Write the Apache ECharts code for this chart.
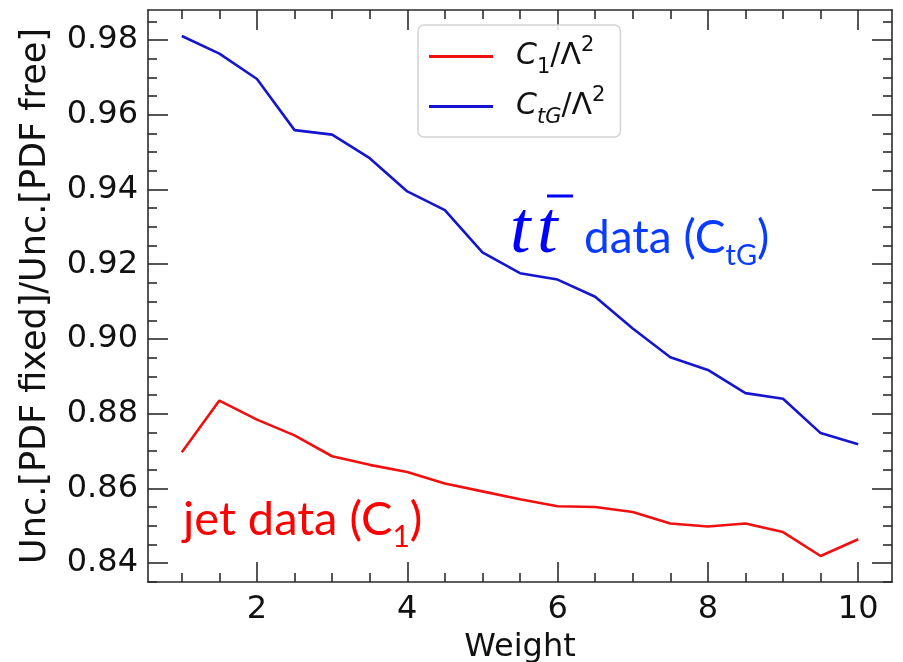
<!DOCTYPE html>
<html>
<head>
<meta charset="utf-8">
<script src="https://cdn.jsdelivr.net/npm/echarts@6/dist/echarts.min.js"></script>
<style>
  html, body { margin: 0; padding: 0; background: #ffffff; }
  #chart { width: 903px; height: 662px; }
</style>
</head>
<body>
<div id="chart"></div>
<script>
// Weight values along the x axis
const weights = [1, 1.5, 2, 2.5, 3, 3.5, 4, 4.5, 5, 5.5, 6, 6.5, 7, 7.5, 8, 8.5, 9, 9.5, 10];

// Unc.[PDF fixed] / Unc.[PDF free] for each operator
const c1Ratio = [0.8697, 0.8835, 0.8784, 0.8742, 0.8686, 0.8663, 0.8644, 0.8613, 0.8592, 0.8571,
                 0.8552, 0.8550, 0.8537, 0.8506, 0.8498, 0.8506, 0.8483, 0.8419, 0.8464];
const ctgRatio = [0.9811, 0.9764, 0.9696, 0.9559, 0.9547, 0.9484, 0.9395, 0.9345, 0.9232, 0.9176,
                  0.9159, 0.9113, 0.9028, 0.8951, 0.8917, 0.8855, 0.8840, 0.8748, 0.8718];

// Tick positions
const xMajorTicks = [2, 4, 6, 8, 10];
const xMinorTicks = [1, 1.5, 2.5, 3, 3.5, 4.5, 5, 5.5, 6.5, 7, 7.5, 8.5, 9, 9.5];
const yMajorTicks = [0.84, 0.86, 0.88, 0.90, 0.92, 0.94, 0.96, 0.98];
const yMinorTicks = [0.835, 0.845, 0.85, 0.855, 0.865, 0.87, 0.875, 0.885, 0.89, 0.895, 0.905,
                     0.91, 0.915, 0.925, 0.93, 0.935, 0.945, 0.95, 0.955, 0.965, 0.97, 0.975, 0.985];

// 5% padding on each side of the data range
function padded(values) {
  const lo = Math.min.apply(null, values), hi = Math.max.apply(null, values);
  const pad = (hi - lo) * 0.05;
  return [lo - pad, hi + pad];
}
const [xMin, xMax] = padded(weights);
const [yMin, yMax] = padded(c1Ratio.concat(ctgRatio));

const FRAME = '#2b2b2b';
const TICK_FONT = 'DejaVu Sans';

function xAxisDef(position, ticks, len, withLine, withLabel) {
  return {
    type: 'value', position: position, min: xMin, max: xMax,
    splitLine: { show: false },
    axisLine: { show: withLine, onZero: false, lineStyle: { color: FRAME, width: 1.6 } },
    axisTick: { show: true, inside: true, length: len, customValues: ticks,
                lineStyle: { color: FRAME, width: 1.6 } },
    axisLabel: withLabel ? { show: true, customValues: ticks, margin: 12, color: '#111',
                fontFamily: TICK_FONT, fontSize: 32 } : { show: false },
    name: withLabel ? 'Weight' : '',
    nameLocation: 'middle', nameGap: 50, nameMoveOverlap: false,
    nameTextStyle: { fontFamily: TICK_FONT, fontSize: 32, color: '#111' }
  };
}
function yAxisDef(position, ticks, len, withLine, withLabel) {
  return {
    type: 'value', position: position, min: yMin, max: yMax,
    splitLine: { show: false },
    axisLine: { show: withLine, onZero: false, lineStyle: { color: FRAME, width: 1.6 } },
    axisTick: { show: true, inside: true, length: len, customValues: ticks,
                lineStyle: { color: FRAME, width: 1.6 } },
    axisLabel: withLabel ? { show: true, customValues: ticks, margin: 10, color: '#111',
                fontFamily: TICK_FONT, fontSize: 32,
                formatter: v => v.toFixed(2) } : { show: false },
    name: withLabel ? 'Unc.[PDF fixed]/Unc.[PDF free]' : '',
    nameLocation: 'middle', nameGap: 95,
    nameTextStyle: { fontFamily: TICK_FONT, fontSize: 35, color: '#111' }
  };
}

const legendRich = {
  gap: { width: 18 },
  c: { fontFamily: TICK_FONT, fontStyle: 'italic', fontSize: 30, color: '#111' },
  n: { fontFamily: TICK_FONT, fontSize: 30, color: '#111' },
  sub: { fontFamily: TICK_FONT, fontSize: 21, color: '#111', verticalAlign: 'bottom', height: 14 },
  subi: { fontFamily: TICK_FONT, fontStyle: 'italic', fontSize: 21, color: '#111', verticalAlign: 'bottom', height: 14 },
  sup: { fontFamily: TICK_FONT, fontSize: 21, color: '#111', verticalAlign: 'top', height: 14 }
};
const legendLabels = {
  'C1/Λ2': '{gap|}{c|C}{sub|1}{n|/Λ}{sup|2}',
  'CtG/Λ2': '{gap|}{c|C}{subi|tG}{n|/Λ}{sup|2}'
};

const chart = echarts.init(document.getElementById('chart'), null, { renderer: 'canvas' });
chart.setOption({
  animation: false,
  backgroundColor: '#ffffff',
  grid: { left: 148, top: 10, width: 744, height: 572, containLabel: false, outerBoundsMode: 'none' },
  xAxis: [
    xAxisDef('bottom', xMajorTicks, 20, true, true),
    xAxisDef('bottom', xMinorTicks, 9, false, false),
    xAxisDef('top', xMajorTicks, 20, true, false),
    xAxisDef('top', xMinorTicks, 9, false, false)
  ],
  yAxis: [
    yAxisDef('left', yMajorTicks, 20, true, true),
    yAxisDef('left', yMinorTicks, 9, false, false),
    yAxisDef('right', yMajorTicks, 20, true, false),
    yAxisDef('right', yMinorTicks, 9, false, false)
  ],
  legend: {
    orient: 'vertical', left: 418, top: 25,
    padding: [10, 15, 9, 11], itemGap: 7,
    icon: 'rect', itemWidth: 64, itemHeight: 3,
    backgroundColor: 'rgba(255,255,255,0.85)',
    borderColor: '#d4d4d4', borderWidth: 1.5, borderRadius: 6,
    data: ['C1/Λ2', 'CtG/Λ2'],
    formatter: name => legendLabels[name],
    textStyle: { rich: legendRich, lineHeight: 36 },
    z: 10
  },
  series: [
    {
      name: 'C1/Λ2', type: 'line', xAxisIndex: 0, yAxisIndex: 0,
      symbol: 'none', color: '#f01010',
      lineStyle: { width: 2.6, color: '#f01010' },
      data: weights.map((w, i) => [w, c1Ratio[i]])
    },
    {
      name: 'CtG/Λ2', type: 'line', xAxisIndex: 0, yAxisIndex: 0,
      symbol: 'none', color: '#1515d0',
      lineStyle: { width: 2.6, color: '#1515d0' },
      data: weights.map((w, i) => [w, ctgRatio[i]])
    }
  ],
  graphic: [
    {
      type: 'text', left: 510, top: 196, z: 20,
      style: { text: 't', font: 'italic 74px "Liberation Serif"', fill: '#0000ff' }
    },
    {
      type: 'text', left: 537, top: 196, z: 20,
      style: { text: 't', font: 'italic 74px "Liberation Serif"', fill: '#0000ff' }
    },
    {
      type: 'line', z: 20,
      shape: { x1: 547, y1: 196, x2: 573, y2: 196 },
      style: { stroke: '#0000ff', lineWidth: 3 }
    },
    {
      type: 'text', left: 584, top: 215, z: 20,
      style: {
        text: '{d|data (C}{s|tG}{d|)}',
        rich: {
          d: { fontFamily: 'Lato', fontSize: 46, fill: '#0a3cff', lineHeight: 56 },
          s: { fontFamily: 'Lato', fontSize: 29, fill: '#0a3cff', verticalAlign: 'bottom', height: 20 }
        }
      }
    },
    {
      type: 'text', left: 183, top: 496, z: 20,
      style: {
        text: '{d|jet data (C}{s|1}{d|)}',
        rich: {
          d: { fontFamily: 'Lato', fontSize: 47, fill: '#ff0000', lineHeight: 56 },
          s: { fontFamily: 'Lato', fontSize: 30, fill: '#ff0000', verticalAlign: 'bottom', height: 20 }
        }
      }
    }
  ]
});
</script>
</body>
</html>
